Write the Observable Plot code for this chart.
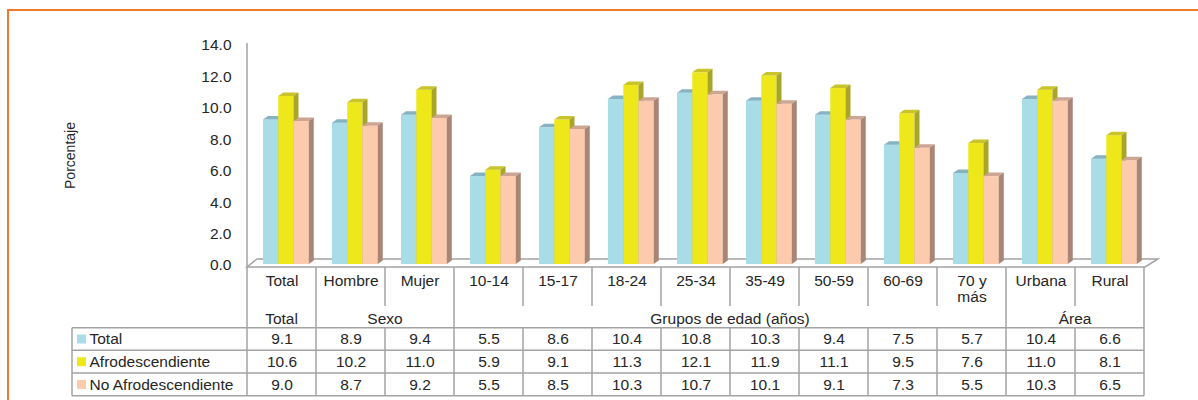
<!DOCTYPE html>
<html>
<head>
<meta charset="utf-8">
<script src="https://cdn.jsdelivr.net/npm/d3@7"></script>
<script src="https://cdn.jsdelivr.net/npm/@observablehq/plot@0.6"></script>
<style>
  html, body { margin: 0; padding: 0; background: #fff; }
  #wrap { position: relative; width: 1198px; height: 400px; overflow: hidden; }
  #frame { position: absolute; left: 7px; top: 9px; width: 1300px; height: 500px;
           border-left: 2px solid #EE7A30; border-top: 2px solid #EE7A30; }
  #chart { position: absolute; left: 0; top: 0; }
</style>
</head>
<body>
<div id="wrap"><div id="frame"></div><div id="chart"></div></div>
<script>
// ---- data ----
const categories = ["Total","Hombre","Mujer","10-14","15-17","18-24","25-34","35-49","50-59","60-69","70 y\nmás","Urbana","Rural"];
const seriesNames = ["Total","Afrodescendiente","No Afrodescendiente"];
const totalValues = [9.1, 8.9, 9.4, 5.5, 8.6, 10.4, 10.8, 10.3, 9.4, 7.5, 5.7, 10.4, 6.6];
const afroValues = [10.6, 10.2, 11.0, 5.9, 9.1, 11.3, 12.1, 11.9, 11.1, 9.5, 7.6, 11.0, 8.1];
const noAfroValues = [9.0, 8.7, 9.2, 5.5, 8.5, 10.3, 10.7, 10.1, 9.1, 7.3, 5.5, 10.3, 6.5];
const groupNames = ["Total","Sexo","Grupos de edad (años)","Área"];
const groupSizes = [1, 2, 8, 2];
const yTicks = [0, 2, 4, 6, 8, 10, 12, 14];
const yLabel = "Porcentaje";

// ---- styles ----
const seriesValues = [totalValues, afroValues, noAfroValues];
const frontColors = ["#A8DCE7", "#EEE81A", "#FCCBAD"];
const topColors = ["#86B3C2", "#C9C429", "#CDA593"];
const sideColors = ["#7EA8B6", "#A9A52A", "#A88575"];
const gridColor = "#A3A3A3";
const textColor = "#262626";
const FONT = "'Liberation Sans', Arial, Helvetica, sans-serif";
const ROW0 = 74, ROWH = 22.7; // table row offsets below the floor

function bw(x) { return typeof x.bandwidth === "function" ? x.bandwidth() : x.bandwidth; }

// 3D bars + floor
function bars3d(index, scales) {
  const x = scales.x, y = scales.y, b = bw(x);
  const g = d3.create("svg:g");
  const x0 = x(categories[0]), x1 = x0 + b * categories.length;
  const yf = y(0) + 2;
  g.append("path")
    .attr("d", `M${x0},${yf}L${x1 + 1},${yf}L${x1 + 14},${yf - 8}L${x0 + 10},${yf - 8}Z`)
    .attr("fill", "#fff").attr("stroke", gridColor).attr("stroke-width", 1.5);
  const dx = 5, dy = 3.5;
  const off = b * 0.232, w = b * 0.221;
  categories.forEach((c, i) => {
    seriesValues.forEach((vals, k) => {
      const xs = x(c) + off + k * w;
      const yt = y(vals[i]) - 2.5, yb = y(0) - 1;
      g.append("rect").attr("x", xs).attr("y", yt).attr("width", w).attr("height", yb - yt)
        .attr("fill", frontColors[k]);
      g.append("path")
        .attr("d", `M${xs},${yt}L${xs + w},${yt}L${xs + w + dx},${yt - dy}L${xs + dx},${yt - dy}Z`)
        .attr("fill", topColors[k]);
      g.append("path")
        .attr("d", `M${xs + w},${yt}L${xs + w + dx},${yt - dy}L${xs + w + dx},${yb - dy}L${xs + w},${yb}Z`)
        .attr("fill", sideColors[k]);
    });
  });
  return g.node();
}

// data table grid, group labels, legend keys
function tableGrid(index, scales) {
  const x = scales.x, y = scales.y, b = bw(x);
  const g = d3.create("svg:g");
  const lines = g.append("g").attr("stroke", gridColor).attr("stroke-width", 1.5).attr("fill", "none");
  const x0 = x(categories[0]), x1 = x0 + b * categories.length;
  const yf = y(0) + 2;
  const yCat = yf + 39;
  const yT = y(0) + ROW0 - ROWH / 2;
  const yBot = yT + 3 * ROWH;
  const xLeft = 72;
  const seg = (xa, ya, xb, yb) => lines.append("line").attr("x1", xa).attr("y1", ya).attr("x2", xb).attr("y2", yb);
  for (let k = 0; k <= 3; k++) seg(xLeft, yT + k * ROWH, x1, yT + k * ROWH);
  seg(xLeft, yT, xLeft, yBot);
  seg(x0, y(14) - 2, x0, yBot);
  const groupEnds = new Set();
  let acc = 0;
  groupSizes.forEach(s => { acc += s; groupEnds.add(acc); });
  for (let i = 1; i <= categories.length; i++) {
    const xb = x0 + i * b;
    if (groupEnds.has(i)) seg(xb, yf, xb, yBot);
    else { seg(xb, yf, xb, yCat); seg(xb, yT, xb, yBot); }
  }
  // group labels
  let start = 0;
  groupNames.forEach((name, j) => {
    const cx = x0 + (start + groupSizes[j] / 2) * b;
    g.append("text").attr("x", cx).attr("y", y(0) + 54).attr("dy", "0.32em")
      .attr("text-anchor", "middle").attr("fill", textColor).text(name);
    start += groupSizes[j];
  });
  // legend keys
  seriesNames.forEach((n, k) => {
    g.append("rect").attr("x", 77).attr("y", y(0) + ROW0 + k * ROWH - 4.5)
      .attr("width", 9).attr("height", 9).attr("fill", frontColors[k]);
  });
  return g.node();
}

const marks = [
  Plot.axisY({ticks: yTicks, tickFormat: d3.format(".1f"), tickSize: 0, tickPadding: 14, label: null, fill: textColor}),
  Plot.text([yLabel], {frameAnchor: "left", dx: -175, rotate: -90, textAnchor: "middle", lineAnchor: "middle", fontSize: 14, fill: textColor}),
  bars3d,
  tableGrid,
  Plot.text(categories, {x: d => d, text: d => d, frameAnchor: "bottom", lineAnchor: "top", dy: 9.5, lineHeight: 1, fill: textColor}),
  ...seriesNames.map((n, k) => Plot.text([n], {frameAnchor: "bottom-left", dx: -156, dy: ROW0 + k * ROWH, textAnchor: "start", lineAnchor: "middle", fill: textColor})),
  ...seriesValues.map((vals, k) => Plot.text(categories, {x: d => d, text: (d, i) => vals[i].toFixed(1), frameAnchor: "bottom", lineAnchor: "middle", dy: ROW0 + k * ROWH, fill: textColor}))
];

const chart = Plot.plot({
  width: 1198,
  height: 400,
  marginLeft: 245,
  marginRight: 52,
  marginTop: 45,
  marginBottom: 135,
  style: {fontFamily: FONT, fontSize: "15.5px", background: "transparent", overflow: "visible"},
  x: {type: "band", domain: categories, padding: 0, axis: null},
  y: {domain: [0, 14]},
  marks
});
document.getElementById("chart").appendChild(chart);
</script>
</body>
</html>
